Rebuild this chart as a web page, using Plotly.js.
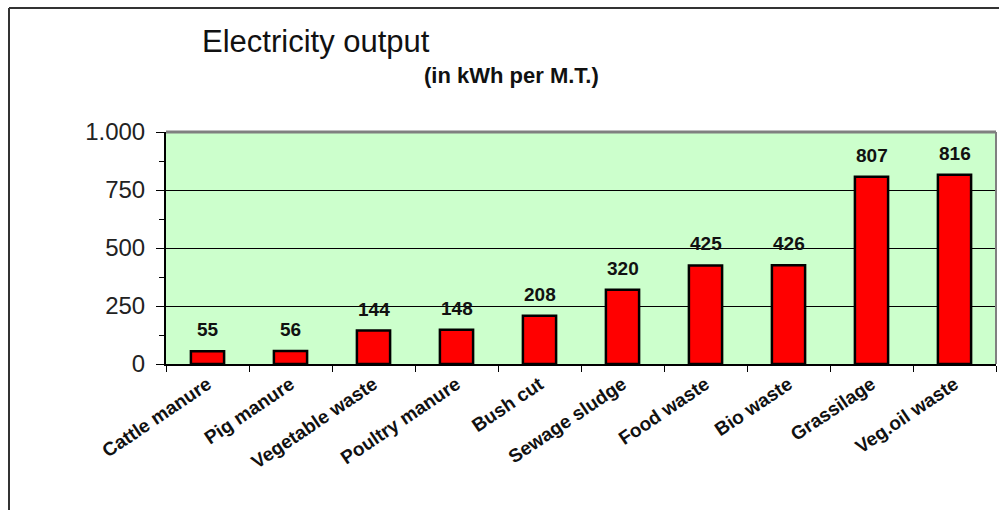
<!DOCTYPE html>
<html>
<head>
<meta charset="utf-8">
<script src="https://cdn.plot.ly/plotly-3.0.1.min.js"></script>
<style>
html,body{margin:0;padding:0;background:#fff;}
#chart{width:999px;height:510px;}
</style>
</head>
<body>
<div id="chart"></div>
<script>
const categories = ["Cattle manure","Pig manure","Vegetable waste","Poultry manure","Bush cut","Sewage sludge","Food waste","Bio waste","Grassilage","Veg.oil waste"];
const values = [55,56,144,148,208,320,425,426,807,816];
const yTickVals = [0,250,500,750,1000];
const yTickText = ["0","250","500","750","1.000"];
const chartTitle = "Electricity output";
const subTitle = "(in kWh per M.T.)";

const W = 999, H = 510;
const mL = 166, mR = 3, mT = 132, mB = 146;
const pw = W - mL - mR, ph = H - mT - mB;
const px = x => (x - mL) / pw;
const py = y => (H - mB - y) / ph;
const FONT = 'Liberation Sans, Arial, sans-serif';

const trace = {
  type: 'bar',
  x: categories,
  y: values,
  width: 0.4,
  marker: {color: '#ff0000', line: {color: '#000000', width: 2.5}},
  hoverinfo: 'skip'
};

const annotations = categories.map((c, i) => ({
  x: c, y: values[i], xref: 'x', yref: 'y',
  text: String(values[i]), showarrow: false,
  yanchor: 'bottom', yshift: 9,
  font: {family: FONT, size: 19, color: '#111', weight: 'bold'}
}));
annotations.push({
  xref: 'paper', yref: 'paper', x: px(422), y: py(75),
  xanchor: 'left', yanchor: 'middle', showarrow: false,
  text: '<b>' + subTitle + '</b>',
  font: {family: FONT, size: 22, color: '#111'}
});

const layout = {
  width: W, height: H,
  margin: {l: mL, r: mR, t: mT, b: mB, pad: 0},
  paper_bgcolor: '#ffffff',
  plot_bgcolor: '#ccffcc',
  showlegend: false,
  title: {
    text: chartTitle, xref: 'container', yref: 'container',
    x: 202 / W, xanchor: 'left', y: 1 - 41 / H, yanchor: 'middle',
    font: {family: FONT, size: 31, color: '#111'}
  },
  xaxis: {
    type: 'category',
    showline: true, linecolor: '#000', linewidth: 2,
    ticks: 'outside', tickson: 'boundaries', ticklen: 6, tickcolor: '#000', tickwidth: 1,
    tickangle: -34,
    tickfont: {family: FONT, size: 19, color: '#111', weight: 'bold'},
    showgrid: false, zeroline: false, fixedrange: true
  },
  yaxis: {
    range: [0, 1000],
    tickvals: yTickVals, ticktext: yTickText,
    showline: true, linecolor: '#000', linewidth: 2,
    ticks: 'outside', ticklen: 8, tickcolor: '#000', tickwidth: 1,
    ticklabelstandoff: 6,
    minor: {dtick: 125, tick0: 0, ticks: 'outside', ticklen: 5, tickcolor: '#000', showgrid: false},
    tickfont: {family: FONT, size: 24, color: '#222'},
    showgrid: true, gridcolor: '#000', gridwidth: 1,
    zeroline: false, fixedrange: true
  },
  shapes: [
    {type: 'line', xref: 'paper', yref: 'paper', x0: 0, x1: 1, y0: 1, y1: 1, line: {color: '#808080', width: 3}},
    {type: 'line', xref: 'paper', yref: 'paper', x0: 1, x1: 1, y0: 0, y1: 1, line: {color: '#808080', width: 2}},
    {type: 'line', xref: 'paper', yref: 'paper', x0: px(9), x1: px(1010), y0: py(8), y1: py(8), line: {color: '#333', width: 2}},
    {type: 'line', xref: 'paper', yref: 'paper', x0: px(9), x1: px(9), y0: py(8), y1: py(530), line: {color: '#333', width: 2}}
  ],
  annotations: annotations
};

Plotly.newPlot('chart', [trace], layout, {displayModeBar: false, staticPlot: true});
</script>
</body>
</html>
